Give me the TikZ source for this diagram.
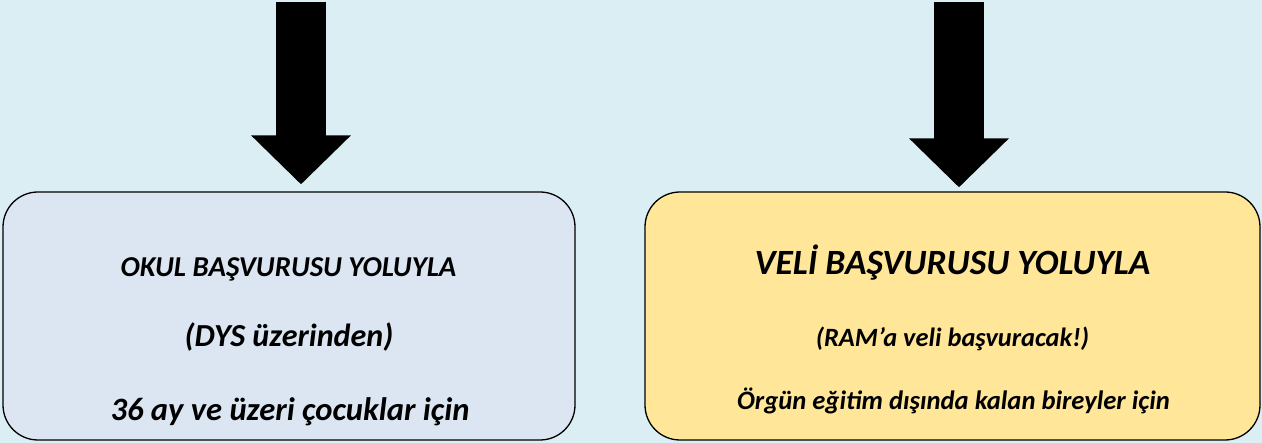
\documentclass[tikz,border=0pt]{standalone}
\usepackage{fontspec}
\setmainfont{Carlito}
\usetikzlibrary{arrows.meta,calc}
\definecolor{bgc}{HTML}{DAEEF3}
\definecolor{leftc}{HTML}{DCE6F2}
\definecolor{rightc}{HTML}{FFE699}
\tikzset{
  boxstyle/.style={draw=black, line width=1.3pt, rounded corners=35pt, inner sep=0pt},
  bigarrow/.style={line width=50pt, -{Triangle[width=97pt,length=49pt]}, black},
  txt/.style={anchor=base, inner sep=0pt, font=\bfseries\itshape},
}
\begin{document}
\begin{tikzpicture}[x=1pt,y=-1pt]
\fill[bgc] (0,0) rectangle (1262,443);
\useasboundingbox (0,0) rectangle (1262,443);
% boxes
\node[boxstyle, fill=leftc, minimum width=572pt, minimum height=248pt] (b1) at (289,316) {};
\node[boxstyle, fill=rightc, minimum width=615pt, minimum height=248pt] (b2) at (952.5,316) {};
% arrows
\coordinate (t1) at (301,2);
\coordinate (t2) at (959,2);
\draw[bigarrow, shorten >=7pt] (t1) -- (t1 |- b1.north);
\draw[bigarrow, shorten >=4pt] (t2) -- (t2 |- b2.north);
% texts left
\node[txt, font=\bfseries\itshape\fontsize{28.8}{30}\selectfont] (l1) at (288.5,277) {OKUL BAŞVURUSU YOLUYLA};
\node[txt, font=\bfseries\itshape\fontsize{32.1}{34}\selectfont] (l2) at (289,347) {(DYS üzerinden)};
\node[txt, font=\bfseries\itshape\fontsize{32.6}{34}\selectfont] (l3) at (290,421) {36 ay ve üzeri çocuklar için};
% texts right
\node[txt, font=\bfseries\itshape\fontsize{35.5}{37}\selectfont] (r1) at (952.5,275) {VELİ BAŞVURUSU YOLUYLA};
\node[txt, font=\bfseries\itshape\fontsize{26.4}{28}\selectfont] (r2) at (952.5,347) {(RAM’a veli başvuracak!)};
\node[txt, font=\bfseries\itshape\fontsize{26.6}{28}\selectfont] (r3) at (953.5,410) {Örgün eğitim dışında kalan bireyler için};
\end{tikzpicture}
\end{document}
